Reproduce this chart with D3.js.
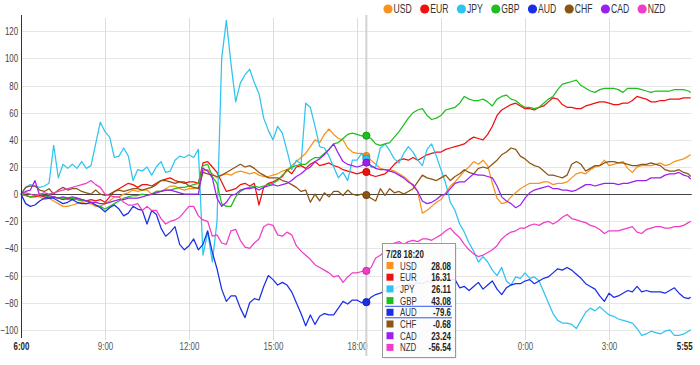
<!DOCTYPE html>
<html><head><meta charset="utf-8">
<script src="https://cdnjs.cloudflare.com/ajax/libs/d3/7.8.5/d3.min.js"></script>
<style>
html,body{margin:0;padding:0;background:#fff;}
svg{display:block;font-family:"Liberation Sans",Arial,Helvetica,sans-serif;}
</style></head><body>
<svg id="chart" width="700" height="365"></svg>
<script>
// ---------------- data ----------------
const currencies = ["USD","EUR","JPY","GBP","AUD","CHF","CAD","NZD"];
const seriesColors = ["#f7931e","#ee1111","#2ec4f0","#1fbf1f","#1a2ee6","#8b5513","#9b20f0","#f03cc8"];
const startLabel = "2016-07-28 06:00";
const stepMinutes = 10;          // sample spacing
const lastMinute = 1435;         // last sample 05:55 next day
const hoverIndex = 74;           // 18:20
const hoverLabel = "7/28 18:20";
const yTicks = [-100,-80,-60,-40,-20,0,20,40,60,80,100,120];
const xTickLabels = ["6:00","9:00","12:00","15:00","18:00","21:00","0:00","3:00","5:55"];
const xBoldLabels = ["6:00","5:55"];

const usd = [0,-1,-2,-1,-2,-4,-3,-5,-7,-9,
 -9,-8,-7,-6,-7,-7,-9,-9,-7,-5,
 -2,-2,0,1,3,2,3,3,0,2,
 2,4,6,6,4,3,4,4,5,17,
 18,15,12,14,15,14,16,17,16,15,
 16,14,13,13,14,15,17,18,21,24,
 27,30,35,40,38,44,48,44,41,40,
 34,31,30,30,28.08,25,22,19,18,18,
 17,15,13,10,6,2,-14,-12,-9,-6,
 -4,1,6,9,13,17,20,24,22,25,
 21,8,-3,-7,-6,-2,1,4,6,8,
 8,8,9,9,7,8,8,9,12,15,
 16,15,18,20,21,25,21,22,23,24,
 19,16,20,21,21,21,22,23,21,22,
 24,25,26,28,29];
const eur = [0,-1,-2,-2,-1,-2,-3,-2,-3,-4,
 -3,-4,-3,-4,-5,-4,-5,-4,-6,-2,
 2,4,6,8,7,5,7,7,6,8,
 10,11,12,10,9,8,9,9,8,23,
 24,20,16,9,2,3,4,7,8,6,
 8,-8,5,8,9,11,13,18,15,20,
 21,19,22,24,21,22,23,21,20,18,
 17,16,15,16,16.31,14,13,14,15,18,
 22,25,26,25,27,25,27,29,30,31,
 31,33,34,35,36,37,40,42,41,40,
 44,50,58,62,64,66,67,65,63,63,
 62,64,65,68,71,70,66,64,64,63,
 63,65,66,67,68,68,67,66,66,67,
 67,69,72,71,70,68,68,69,69,70,
 70,70,71,71,71];
const jpy = [0,5,7,6,5,6,8,36,12,22,
 19,22,19,24,19,21,37,53,46,42,
 27,28,34,28,10,18,17,20,14,20,
 24,16,17,25,28,27,29,27,33,-45,
 -28,-50,-20,100,128,96,68,82,88,92,
 82,74,56,47,40,50,45,32,18,25,
 22,67,64,50,35,34,28,20,12,16,
 10,25,25,30,26.11,20,20,34,37,32,
 26,23,30,35,31,25,21,33,37,28,
 18,8,-6,-12,-22,-28,-36,-42,-50,-46,
 -50,-56,-60,-54,-64,-67,-61,-62,-58,-62,
 -61,-64,-72,-80,-88,-93,-95,-95,-96,-99,
 -93,-87,-84,-86,-83,-86,-89,-90,-92,-93,
 -94,-95,-99,-104,-103,-101,-102,-103,-101,-100,
 -104,-104,-103,-101,-100];
const gbp = [0,-1,-2,-1,0,-1,-2,-2,-3,-3,
 -4,-3,-4,-5,-5,-6,-8,-9,-11,-9,
 -7,-5,-3,-2,-1,-1,0,-1,0,2,
 2,3,3,4,5,5,6,7,8,21,
 22,13,8,-7,-9,-9,-2,2,4,5,
 6,5,6,7,8,10,14,17,20,21,
 22,22,25,27,27,30,33,37,38,41,
 44,45,44,43,43.08,41,37,36,37,38,
 42,46,51,56,60,62,63,58,55,56,
 58,62,63,64,67,72,70,69,69,70,
 68,65,70,72,73,70,69,66,64,64,
 63,64,67,70,72,77,81,82,83,84,
 80,78,76,75,77,78,78,78,77,75,
 78,78,78,77,76,75,76,76,76,76,
 77,77,77,76,75];
const aud = [0,-7,-9,-8,-5,-3,-3,-3,-5,-7,
 -6,-4,-6,-7,-7,-6,-8,-10,-13,-10,
 -8,-11,-16,-14,-9,-11,-12,-22,-12,-15,
 -25,-31,-28,-24,-37,-41,-38,-33,-41,-37,
 -27,-43,-55,-70,-79,-75,-75,-84,-91,-80,
 -77,-78,-68,-60,-63,-67,-65,-67,-72,-80,
 -88,-97,-89,-96,-90,-88,-89,-89,-84,-79,
 -81,-78,-78,-80,-79.6,-76,-74,-73,-71,-72,
 -70,-68,-69,-66,-67,-65,-66,-64,-65,-63,
 -64,-62,-63,-63,-69,-68,-71,-68,-65,-70,
 -67,-64,-70,-74,-69,-67,-66,-66,-64,-63,
 -66,-64,-62,-61,-58,-55,-56,-54,-56,-59,
 -62,-66,-68,-70,-75,-79,-73,-76,-75,-73,
 -71,-72,-68,-72,-71,-72,-72,-72,-73,-71,
 -69,-73,-76,-77,-76];
const chf = [0,5,6,6,3,2,4,0,3,5,
 3,4,4,2,1,0,3,0,-1,0,
 2,3,2,3,4,4,3,4,5,7,
 10,10,9,8,9,9,6,5,4,16,
 15,14,13,14,16,18,20,22,20,21,
 19,16,14,12,12,12,10,9,7,5,
 2,3,-6,0,-5,1,-2,2,2,-1,
 3,0,-1,0,-0.68,-3,-5,4,-1,4,
 1,2,0,2,4,9,14,12,11,10,
 12,14,10,13,15,18,16,15,19,20,
 19,22,25,29,31,34,33,28,26,23,
 21,20,17,14,14,13,12,14,22,24,
 22,17,19,21,21,23,24,24,23,23,
 22,21,21,22,22,23,22,21,18,17,
 17,18,16,15,13];
const cad = [0,2,3,10,-1,-1,-1,-2,-3,-2,
 -3,-2,-3,-4,-5,-6,-6,-7,-7,-6,
 -5,-4,-4,-3,-3,-3,-2,-1,0,1,
 2,3,3,2,1,0,0,0,0,19,
 17,12,-3,-9,-6,-1,0,3,4,4,
 5,3,5,6,7,6,7,8,10,13,
 15,18,20,24,26,29,33,37,30,24,
 22,21,20,21,23.24,21,19,18,18,17,
 16,14,12,9,7,2,-5,-7,-6,-4,
 -1,0,4,8,9,9,12,15,14,14,
 13,12,6,-2,-5,-7,-10,-8,-3,1,
 3,4,5,6,4,4,3,3,2,3,
 5,7,7,6,7,8,8,8,7,8,
 8,9,10,10,10,12,12,12,14,15,
 15,16,14,13,11];
const nzd = [0,1,0,-1,0,1,0,1,2,3,
 4,5,6,7,8,10,7,5,0,-1,
 -2,-2,-6,-8,-8,-7,-12,-9,-12,-12,
 -18,-22,-20,-19,-17,-13,-9,-9,-16,-19,
 -20,-31,-30,-36,-37,-27,-26,-34,-39,-40,
 -36,-33,-24,-22,-23,-30,-31,-28,-30,-38,
 -42,-45,-48,-52,-54,-56,-58,-61,-60,-65,
 -61,-58,-58,-57,-56.54,-54,-47,-45,-42,-38,
 -36,-35,-37,-35,-34,-35,-33,-33,-34,-32,
 -30,-27,-25,-29,-32,-37,-41,-44,-46,-45,
 -43,-41,-38,-33,-30,-28,-27,-25,-25,-23,
 -22,-23,-21,-20,-22,-20,-17,-15,-18,-19,
 -20,-21,-23,-24,-26,-29,-27,-27,-27,-26,
 -25,-24,-28,-29,-26,-25,-24,-24,-25,-25,
 -24,-24,-23,-21,-20];

const seriesValues = [usd,eur,jpy,gbp,aud,chf,cad,nzd];

// ---------------- chart ----------------
const SX = 0.72;   // horizontal text compression seen in the reference
const FONT = '"Liberation Sans",Arial,sans-serif';
const svg = d3.select("#chart");
const parseStart = d3.timeParse("%Y-%m-%d %H:%M");
const t0 = parseStart(startLabel);
const n = usd.length;
const times = d3.range(n).map(i => d3.timeMinute.offset(t0, i === n - 1 ? lastMinute : i * stepMinutes));

const L = 21, R = 690.7, T = 15, B = 338;
const x = d3.scaleTime().domain([times[0], times[n - 1]]).range([L, R]);
const y = d3.scaleLinear().domain([-106, 132]).range([B, T]);

function ctext(parent, px, py, str) {
  return parent.append("text")
    .attr("transform", `translate(${px},${py}) scale(${SX},1)`)
    .attr("font-family", FONT)
    .text(str);
}

// tick times from labels
const tickTimes = xTickLabels.map(lbl => {
  const [h, m] = lbl.split(":").map(Number);
  let mins = (h * 60 + m) - 360;
  if (mins < 0) mins += 1440;
  return d3.timeMinute.offset(t0, mins);
});

// horizontal grid
svg.append("g").selectAll("line").data(yTicks).join("line")
  .attr("x1", L).attr("x2", R + 1)
  .attr("y1", d => Math.round(y(d)) + 0.5).attr("y2", d => Math.round(y(d)) + 0.5)
  .attr("stroke", "#e6e6e6").attr("stroke-width", 1);

// vertical grid
svg.append("g").selectAll("line").data(tickTimes.slice(1, -1)).join("line")
  .attr("x1", d => Math.round(x(d)) + 0.5).attr("x2", d => Math.round(x(d)) + 0.5)
  .attr("y1", T + 3).attr("y2", B + 2)
  .attr("stroke", "#dcdcdc").attr("stroke-width", 1);

// y axis labels
const yAxis = d3.axisLeft(y).tickValues(yTicks).tickSize(0).tickPadding(4).tickFormat(d3.format("d"));
const gy = svg.append("g").attr("transform", `translate(${L},0)`).call(yAxis);
gy.select(".domain").remove();
gy.selectAll("text").attr("font-size", 11).attr("fill", "#444")
  .attr("font-family", FONT).attr("transform", `scale(${SX},1)`);

// x axis labels
const xAxis = d3.axisBottom(x).tickValues(tickTimes).tickSize(0).tickPadding(0)
  .tickFormat((d, i) => xTickLabels[i]);
const gx = svg.append("g").attr("transform", `translate(0,${B + 4})`).call(xAxis);
gx.select(".domain").remove();
gx.selectAll("text").attr("font-size", 11)
  .attr("font-family", FONT)
  .attr("fill", (d, i) => xBoldLabels.includes(xTickLabels[i]) ? "#222" : "#555")
  .attr("font-weight", (d, i) => xBoldLabels.includes(xTickLabels[i]) ? "bold" : "normal")
  .attr("x", (d, i) => i === xTickLabels.length - 1 ? -9 : 0)
  .attr("transform", `scale(${SX},1)`);

// hover line
svg.append("line")
  .attr("x1", x(times[hoverIndex])).attr("x2", x(times[hoverIndex]))
  .attr("y1", T).attr("y2", B + 18)
  .attr("stroke", "#d2d2d2").attr("stroke-width", 2);

// zero line
svg.append("line").attr("x1", L).attr("x2", R + 1)
  .attr("y1", Math.round(y(0)) + 0.5).attr("y2", Math.round(y(0)) + 0.5)
  .attr("stroke", "#444").attr("stroke-width", 1);

// series lines
const line = d3.line().x((d, i) => x(times[i])).y(d => y(d));
svg.append("g").selectAll("path").data(seriesValues).join("path")
  .attr("d", d => line(d))
  .attr("fill", "none")
  .attr("stroke", (d, i) => seriesColors[i])
  .attr("stroke-width", 1.25)
  .attr("stroke-linejoin", "round");

// y axis line
svg.append("line").attr("x1", L + 0.5).attr("x2", L + 0.5).attr("y1", T).attr("y2", B)
  .attr("stroke", "#333").attr("stroke-width", 1);

// hover dots
svg.append("g").selectAll("circle").data(seriesValues).join("circle")
  .attr("cx", x(times[hoverIndex]))
  .attr("cy", d => y(d[hoverIndex]))
  .attr("r", 3.6)
  .attr("fill", (d, i) => seriesColors[i])
  .attr("stroke", (d, i) => d3.color(seriesColors[i]).darker(0.6))
  .attr("stroke-width", 1);

// legend
const lg = svg.append("g");
let cx = 388;
currencies.forEach((c, i) => {
  lg.append("circle").attr("cx", cx).attr("cy", 9).attr("r", 4.6).attr("fill", seriesColors[i]);
  const t = ctext(lg, cx + 5.5, 13.2, c).attr("font-size", 12).attr("fill", "#333");
  cx = cx + 5.5 + t.node().getComputedTextLength() * SX + 13;
});

// tooltip
const tip = svg.append("g").attr("transform", "translate(382,243)");
tip.append("rect").attr("x", 1.5).attr("y", 1.5).attr("width", 73).attr("height", 114)
  .attr("fill", "#000").attr("fill-opacity", 0.12);
tip.append("rect").attr("x", 0.5).attr("y", 0.5).attr("width", 73).attr("height", 114)
  .attr("fill", "#fff").attr("fill-opacity", 0.9).attr("stroke", "#999");
ctext(tip, 4, 15, hoverLabel).attr("font-size", 11).attr("font-weight", "bold").attr("fill", "#222");
currencies.forEach((c, i) => {
  const cy = 22.5 + i * 11.7;
  tip.append("rect").attr("x", 4.5).attr("y", cy - 3.5).attr("width", 7).attr("height", 7)
    .attr("fill", seriesColors[i]);
  ctext(tip, 18, cy + 4, c).attr("font-size", 11).attr("fill", "#333");
  ctext(tip, 69, cy + 4, String(seriesValues[i][hoverIndex]))
    .attr("font-size", 11).attr("fill", "#222").attr("font-weight", "bold")
    .attr("text-anchor", "end");
  if (c === "AUD") {
    [cy - 6, cy + 5.5].forEach(yy => tip.append("line").attr("x1", 3).attr("x2", 70)
      .attr("y1", yy).attr("y2", yy).attr("stroke", "#3355ee").attr("stroke-width", 1));
  }
});
</script>
</body></html>
